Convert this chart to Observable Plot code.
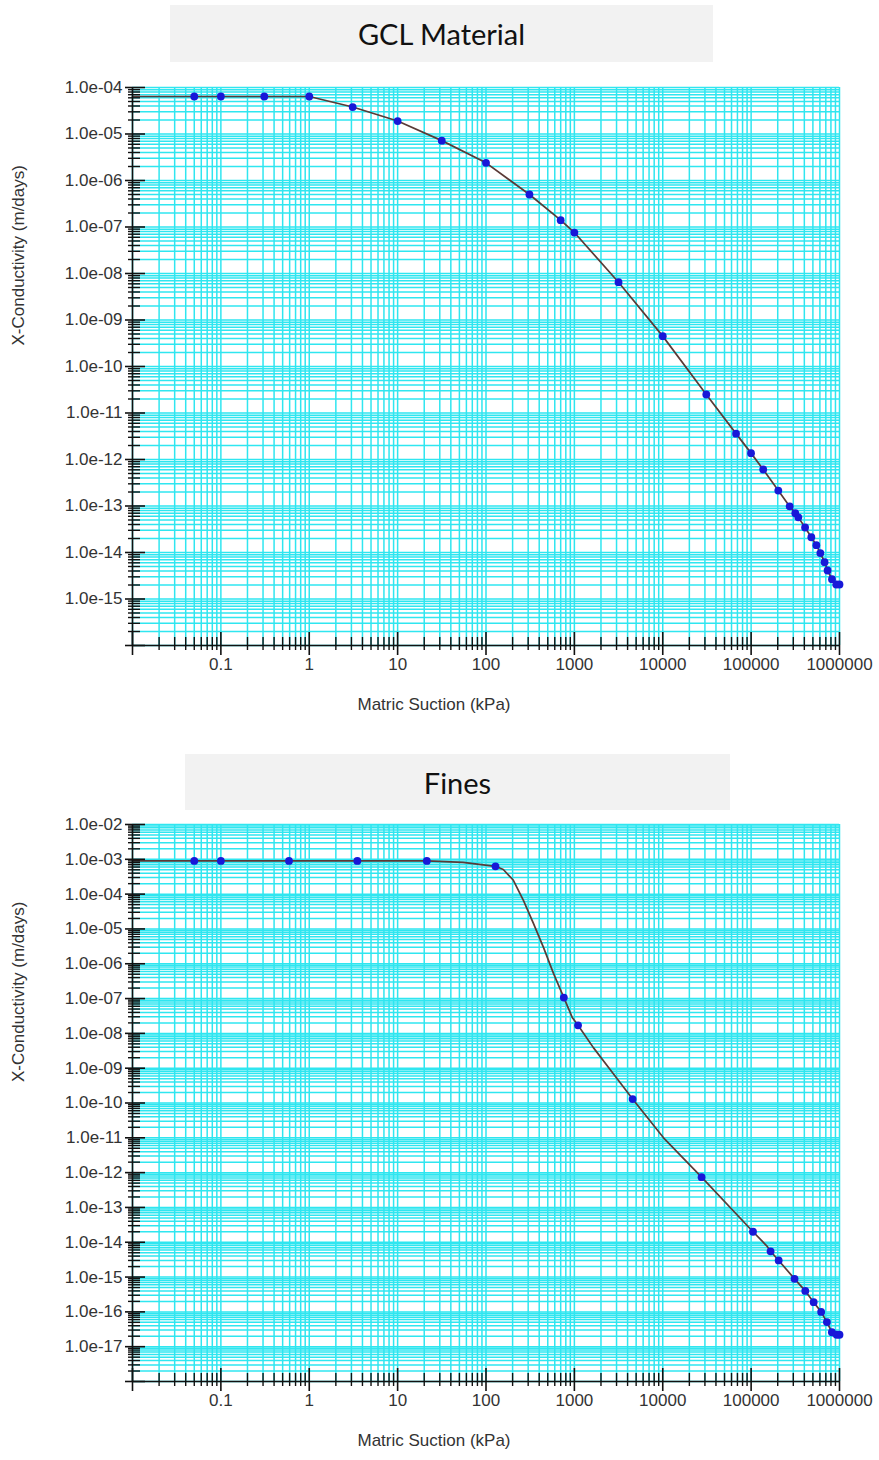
<!DOCTYPE html>
<html>
<head>
<meta charset="utf-8">
<script src="https://cdn.jsdelivr.net/npm/d3@7"></script>
<script src="https://cdn.jsdelivr.net/npm/@observablehq/plot@0.6"></script>
<style>
  body { margin: 0; background: #fff; width: 879px; height: 1460px; position: relative; overflow: hidden; }
  .title { position: absolute; background: #f2f2f2; display: flex; align-items: center; justify-content: center;
           font-family: Lato, "Open Sans", sans-serif; font-size: 29px; color: #111; }
  .chart { position: absolute; left: 0; }
</style>
</head>
<body>
<div class="title" style="left:170px;top:5px;width:543px;height:57px">GCL Material</div>
<div id="c1" class="chart" style="top:70px"></div>
<div class="title" style="left:185px;top:754px;width:545px;height:56px">Fines</div>
<div id="c2" class="chart" style="top:810px"></div>
<script>
// ---------- Data ----------
// GCL Material: markers (matric suction kPa, X-conductivity m/days)
const gclSuction = [0.05, 0.1, 0.31, 1, 3.1, 10, 31.6, 100, 310, 700, 1000, 3160, 10000, 31100, 67500, 99800, 137000, 203000, 273000, 316000, 342000, 408000, 480000, 547000, 607000, 678000, 733000, 822000, 920000, 1000000];
const gclConductivity = [6.4e-5, 6.4e-5, 6.4e-5, 6.4e-5, 3.8e-5, 1.9e-5, 7.2e-6, 2.4e-6, 5.0e-7, 1.4e-7, 7.6e-8, 6.5e-9, 4.5e-10, 2.5e-11, 3.6e-12, 1.37e-12, 6.1e-13, 2.15e-13, 9.8e-14, 7.0e-14, 5.7e-14, 3.45e-14, 2.13e-14, 1.44e-14, 9.7e-15, 6.2e-15, 4.1e-15, 2.67e-15, 2.05e-15, 2.05e-15];
// extra vertices of the GCL curve (no markers)
const gclCurveSuction = [0.01];
const gclCurveConductivity = [6.4e-5];

// Fines: markers
const finesSuction = [0.05, 0.1, 0.59, 3.5, 21.4, 128, 760, 1100, 4560, 27500, 105000, 166000, 205000, 310000, 410000, 510000, 620000, 720000, 820000, 930000, 1000000];
const finesConductivity = [9.0e-4, 9.0e-4, 9.0e-4, 9.0e-4, 9.0e-4, 6.3e-4, 1.07e-7, 1.7e-8, 1.3e-10, 7.4e-13, 2.0e-14, 5.5e-15, 3.0e-15, 8.9e-16, 4.0e-16, 1.9e-16, 1.0e-16, 5.1e-17, 2.6e-17, 2.2e-17, 2.2e-17];
// extra vertices of the Fines curve (no markers)
const finesCurveSuction = [0.01, 55, 157, 204, 265, 344, 448, 580, 950, 1640, 2760, 10200, 150000];
const finesCurveConductivity = [9.0e-4, 8.2e-4, 5.1e-4, 2.5e-4, 6.6e-5, 1.45e-5, 2.9e-6, 5.3e-7, 2.8e-8, 3.9e-9, 6.9e-10, 1.0e-11, 7.9e-15];

// Axis ticks
const xDomain = [0.01, 1000000];
const xLabelTicks = [0.1, 1, 10, 100, 1000, 10000, 100000, 1000000];
const gclYDomain = [1e-16, 1e-4];
const gclYLabelTicks = [1e-4, 1e-5, 1e-6, 1e-7, 1e-8, 1e-9, 1e-10, 1e-11, 1e-12, 1e-13, 1e-14, 1e-15];
const finesYDomain = [1e-18, 1e-2];
const finesYLabelTicks = [1e-2, 1e-3, 1e-4, 1e-5, 1e-6, 1e-7, 1e-8, 1e-9, 1e-10, 1e-11, 1e-12, 1e-13, 1e-14, 1e-15, 1e-16, 1e-17];

const xTitle = "Matric Suction (kPa)";
const yTitle = "X-Conductivity (m/days)";

// ---------- Helpers ----------
function decadeTicks([lo, hi]) {
  const majors = [], minors = [];
  const e0 = Math.round(Math.log10(lo)), e1 = Math.round(Math.log10(hi));
  for (let e = e0; e <= e1; e++) {
    majors.push(+(`1e${e}`));
    if (e < e1) for (let k = 2; k <= 9; k++) minors.push(+(`${k}e${e}`));
  }
  return {majors, minors};
}
const fmtY = d => { const e = Math.round(Math.log10(d)); return "1.0e" + (e < 0 ? "-" : "+") + String(Math.abs(e)).padStart(2, "0"); };
const fmtX = d => d < 1 ? String(d) : d.toFixed(0);

function zip(xs, ys) { return xs.map((s, i) => ({s, k: ys[i]})); }

function makeChart({markers, curve, yDomain, yLabelTicks, marginTop, innerHeight, marginBottom}) {
  const xt = decadeTicks(xDomain), yt = decadeTicks(yDomain);
  const xMin = xDomain[0], yMin = yDomain[0];
  const grid = "#2fe6f0";
  return Plot.plot({
    width: 879,
    height: marginTop + innerHeight + marginBottom,
    marginLeft: 132, marginRight: 40, marginTop, marginBottom,
    x: {type: "log", domain: xDomain},
    y: {type: "log", domain: yDomain},
    style: {fontFamily: "'Liberation Sans', Arial, sans-serif", fontSize: "17px", color: "#333", background: "transparent"},
    marks: [
      Plot.ruleX([...xt.minors, ...xt.majors], {stroke: grid, strokeWidth: 1.5}),
      Plot.ruleY([...yt.minors, ...yt.majors], {stroke: grid, strokeWidth: 1.5}),
      Plot.line(curve, {x: "s", y: "k", stroke: "#5a3a36", strokeWidth: 1.7}),
      Plot.dot(markers, {x: "s", y: "k", r: 3.9, fill: "#1818d8", stroke: "none"}),
      // axis lines
      Plot.ruleX([xMin], {stroke: "#111", strokeWidth: 1.6}),
      Plot.ruleY([yMin], {stroke: "#111", strokeWidth: 1.6}),
      // x ticks (crossing the axis)
      Plot.ruleX(xt.majors, {y1: () => yMin, y2: () => yMin, insetTop: -13, insetBottom: -10, stroke: "#111", strokeWidth: 1.6}),
      Plot.ruleX(xt.minors, {y1: () => yMin, y2: () => yMin, insetTop: -8, insetBottom: -5, stroke: "#111", strokeWidth: 1.4}),
      // y ticks
      Plot.ruleY(yt.majors, {x1: () => xMin, x2: () => xMin, insetLeft: -7, insetRight: -13, stroke: "#111", strokeWidth: 1.6}),
      Plot.ruleY(yt.minors, {x1: () => xMin, x2: () => xMin, insetLeft: -4, insetRight: -8, stroke: "#111", strokeWidth: 1.4}),
      // labels
      Plot.axisX(xLabelTicks, {tickSize: 0, tickPadding: 12, tickFormat: fmtX, label: null, fill: "#333", fontSize: 17}),
      Plot.axisY(yLabelTicks, {tickSize: 0, tickPadding: 10, tickFormat: fmtY, label: null, fill: "#333", fontSize: 17}),
      Plot.text([yTitle], {frameAnchor: "left", dx: -114, dy: -21, rotate: -90, fill: "#333", fontSize: 17}),
      Plot.text([xTitle], {frameAnchor: "bottom", dx: -52, dy: 64, fill: "#333", fontSize: 17})
    ]
  });
}

const gclMarkers = zip(gclSuction, gclConductivity);
const gclCurve = [...gclMarkers, ...zip(gclCurveSuction, gclCurveConductivity)].sort((a, b) => a.s - b.s);
const finesMarkers = zip(finesSuction, finesConductivity);
const finesCurve = [...finesMarkers, ...zip(finesCurveSuction, finesCurveConductivity)].sort((a, b) => a.s - b.s);

document.getElementById("c1").append(makeChart({
  markers: gclMarkers, curve: gclCurve, yDomain: gclYDomain, yLabelTicks: gclYLabelTicks,
  marginTop: 17, innerHeight: 558, marginBottom: 80
}));
document.getElementById("c2").append(makeChart({
  markers: finesMarkers, curve: finesCurve, yDomain: finesYDomain, yLabelTicks: finesYLabelTicks,
  marginTop: 14, innerHeight: 557, marginBottom: 79
}));
</script>
</body>
</html>
